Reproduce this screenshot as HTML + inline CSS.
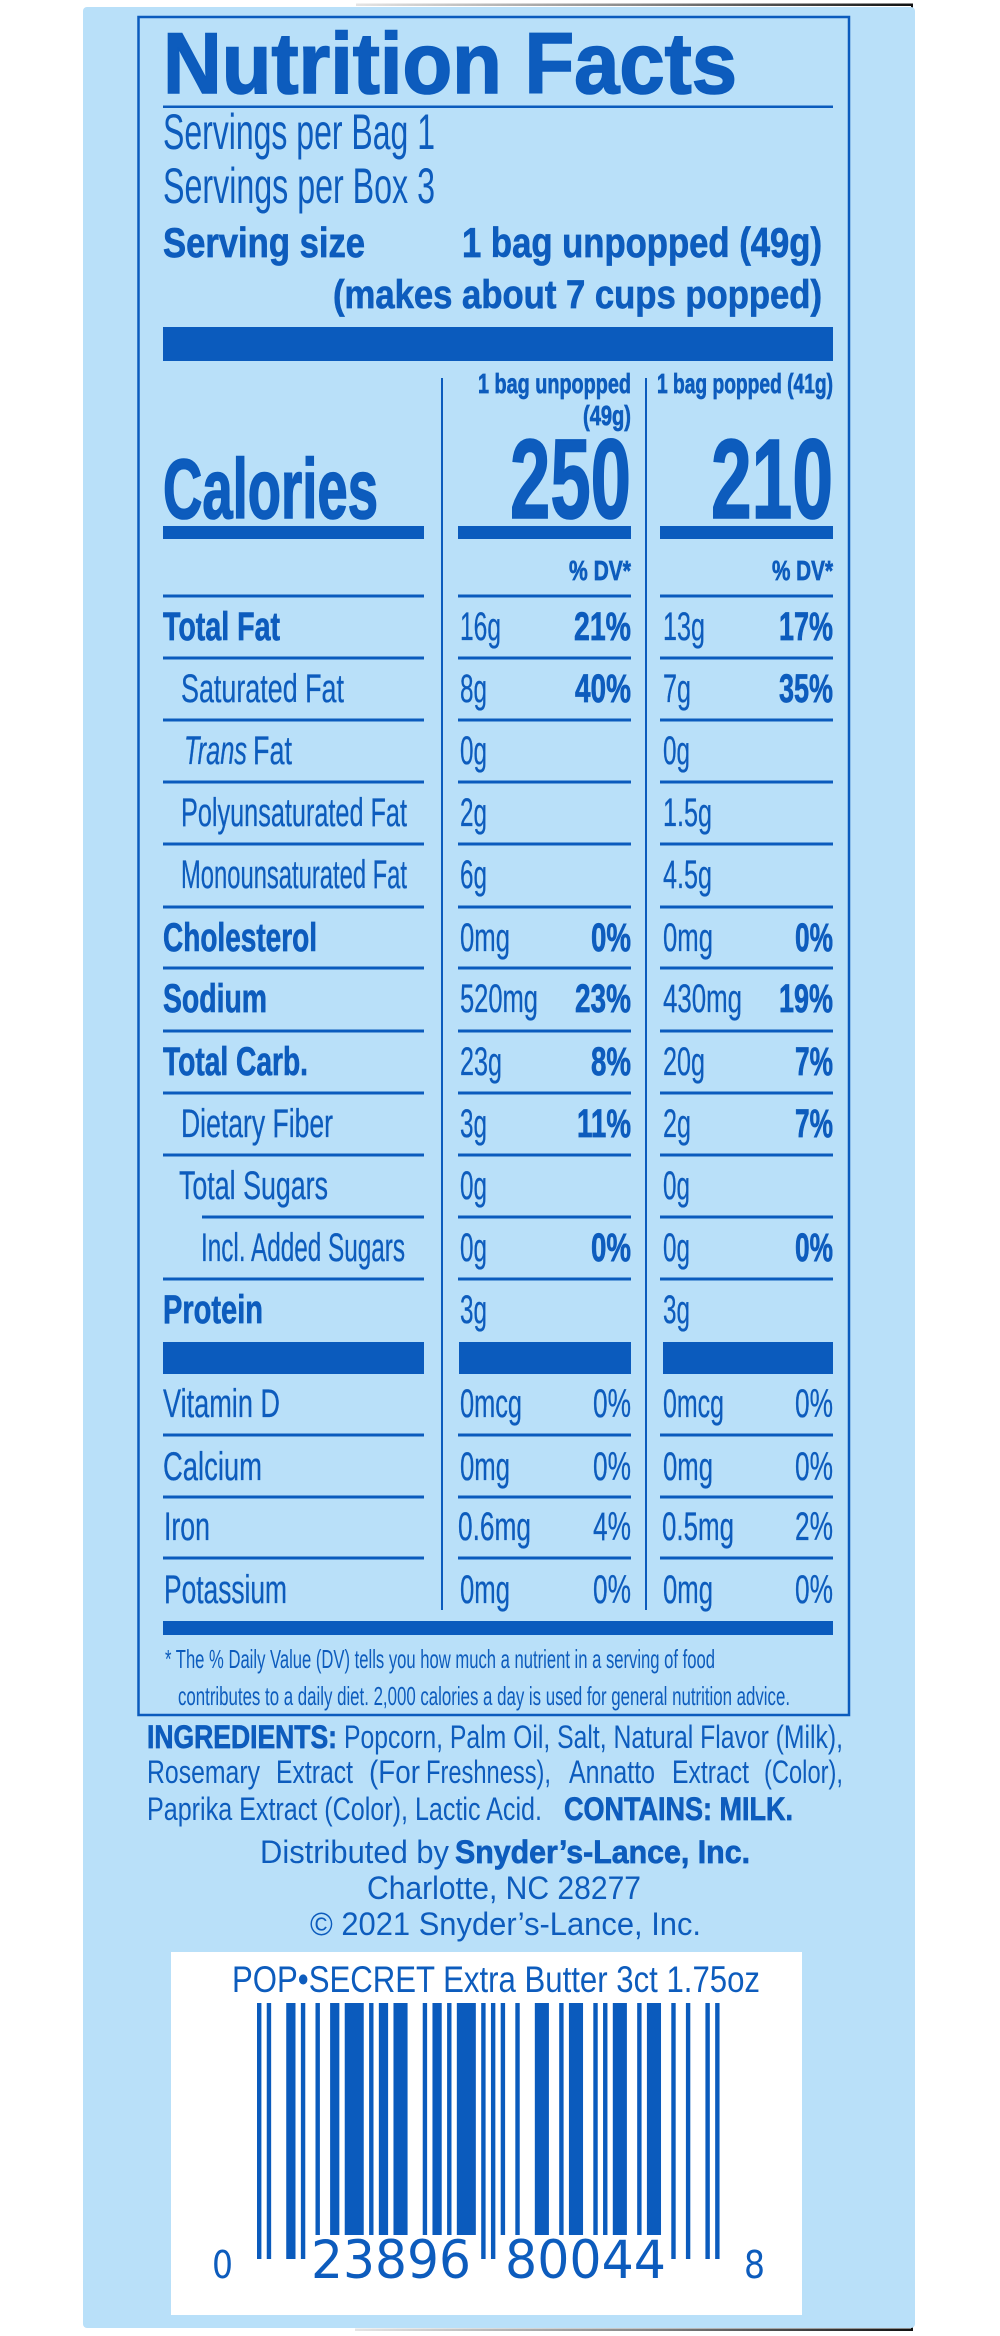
<!DOCTYPE html>
<html>
<head>
<meta charset="utf-8">
<style>
html,body{margin:0;padding:0;background:#fff;width:1000px;height:2336px;overflow:hidden}
svg{display:block}
text{font-family:"Liberation Sans",Arial,sans-serif;fill:#0d5cbd}
.b{font-weight:bold}
.bs{font-weight:bold;stroke:#0d5cbd;stroke-width:0.7}
.bt{font-weight:bold;stroke:#0b5bbd;stroke-width:1.6}
.i{font-style:italic}
rect.k{fill:#0b5bbd}
</style>
</head>
<body>
<svg width="1000" height="2336" viewBox="0 0 1000 2336" xmlns="http://www.w3.org/2000/svg">
<defs>
<linearGradient id="sh" x1="0" x2="1" y1="0" y2="0">
<stop offset="0" stop-color="#e4e4e4"/>
<stop offset="0.5" stop-color="#8a8a8a"/>
<stop offset="1" stop-color="#111"/>
</linearGradient>
</defs>
<rect x="0" y="0" width="1000" height="2336" fill="#fff"/>
<rect x="356" y="3.5" width="557" height="2.5" fill="url(#sh)"/>
<rect x="911" y="3.5" width="2" height="6" fill="#111"/>
<rect x="355" y="2328.5" width="558" height="2.5" fill="url(#sh)"/>
<rect x="911" y="2324" width="2" height="6" fill="#111"/>
<rect x="83" y="7" width="832" height="2321" rx="4" ry="4" fill="#b9e0f9"/>
<rect x="138.5" y="17" width="710.5" height="1698" fill="none" stroke="#0b5bbd" stroke-width="2.5"/>

<text x="163" y="93" font-size="86" class="bt" textLength="574" lengthAdjust="spacingAndGlyphs">Nutrition Facts</text>
<rect class="k" x="163" y="105.5" width="670" height="2.5"/>
<text x="163" y="149" font-size="50" textLength="272" lengthAdjust="spacingAndGlyphs">Servings per Bag 1</text>
<text x="163" y="203" font-size="50" textLength="272" lengthAdjust="spacingAndGlyphs">Servings per Box 3</text>
<text x="163" y="257" font-size="42" class="bs" textLength="202" lengthAdjust="spacingAndGlyphs">Serving size</text>
<text x="462" y="257" font-size="42" class="bs" textLength="360" lengthAdjust="spacingAndGlyphs">1 bag unpopped (49g)</text>
<text x="333" y="308" font-size="40" class="bs" textLength="489" lengthAdjust="spacingAndGlyphs">(makes about 7 cups popped)</text>
<rect class="k" x="163" y="327" width="670" height="34"/>

<rect class="k" x="441" y="378" width="2" height="1232"/>
<rect class="k" x="645" y="378" width="2" height="1232"/>

<text x="478" y="393" font-size="28" class="bs" textLength="153" lengthAdjust="spacingAndGlyphs">1 bag unpopped</text>
<text x="583" y="425" font-size="28" class="bs" textLength="48" lengthAdjust="spacingAndGlyphs">(49g)</text>
<text x="657" y="393" font-size="28" class="bs" textLength="176" lengthAdjust="spacingAndGlyphs">1 bag popped (41g)</text>

<text x="163" y="518" font-size="84" class="bt" textLength="215" lengthAdjust="spacingAndGlyphs">Calories</text>
<text x="510" y="518" font-size="113" class="bt" textLength="121" lengthAdjust="spacingAndGlyphs">250</text>
<text x="711" y="518" font-size="113" class="bt" textLength="122" lengthAdjust="spacingAndGlyphs">210</text>
<rect class="k" x="163" y="526" width="261" height="13"/>
<rect class="k" x="458" y="526" width="173" height="13"/>
<rect class="k" x="660" y="526" width="173" height="13"/>

<text x="569" y="580" font-size="28" class="bs" textLength="62" lengthAdjust="spacingAndGlyphs">% DV*</text>
<text x="772" y="580" font-size="28" class="bs" textLength="61" lengthAdjust="spacingAndGlyphs">% DV*</text>

<g>
<rect class="k" x="163" y="594.5" width="261" height="3"/><rect class="k" x="458" y="594.5" width="173" height="3"/><rect class="k" x="660" y="594.5" width="173" height="3"/>
<rect class="k" x="163" y="656.5" width="261" height="3"/><rect class="k" x="458" y="656.5" width="173" height="3"/><rect class="k" x="660" y="656.5" width="173" height="3"/>
<rect class="k" x="163" y="718.5" width="261" height="3"/><rect class="k" x="458" y="718.5" width="173" height="3"/><rect class="k" x="660" y="718.5" width="173" height="3"/>
<rect class="k" x="163" y="780.5" width="261" height="3"/><rect class="k" x="458" y="780.5" width="173" height="3"/><rect class="k" x="660" y="780.5" width="173" height="3"/>
<rect class="k" x="163" y="842.5" width="261" height="3"/><rect class="k" x="458" y="842.5" width="173" height="3"/><rect class="k" x="660" y="842.5" width="173" height="3"/>
<rect class="k" x="163" y="905.5" width="261" height="3"/><rect class="k" x="458" y="905.5" width="173" height="3"/><rect class="k" x="660" y="905.5" width="173" height="3"/>
<rect class="k" x="163" y="966.5" width="261" height="3"/><rect class="k" x="458" y="966.5" width="173" height="3"/><rect class="k" x="660" y="966.5" width="173" height="3"/>
<rect class="k" x="163" y="1029.5" width="261" height="3"/><rect class="k" x="458" y="1029.5" width="173" height="3"/><rect class="k" x="660" y="1029.5" width="173" height="3"/>
<rect class="k" x="163" y="1091.5" width="261" height="3"/><rect class="k" x="458" y="1091.5" width="173" height="3"/><rect class="k" x="660" y="1091.5" width="173" height="3"/>
<rect class="k" x="163" y="1153.5" width="261" height="3"/><rect class="k" x="458" y="1153.5" width="173" height="3"/><rect class="k" x="660" y="1153.5" width="173" height="3"/>
<rect class="k" x="202" y="1215.5" width="222" height="3"/><rect class="k" x="458" y="1215.5" width="173" height="3"/><rect class="k" x="660" y="1215.5" width="173" height="3"/>
<rect class="k" x="163" y="1277.5" width="261" height="3"/><rect class="k" x="458" y="1277.5" width="173" height="3"/><rect class="k" x="660" y="1277.5" width="173" height="3"/>
<rect class="k" x="163" y="1342" width="261" height="32"/><rect class="k" x="459" y="1342" width="172" height="32"/><rect class="k" x="663" y="1342" width="170" height="32"/>
<rect class="k" x="163" y="1433.5" width="261" height="3"/><rect class="k" x="458" y="1433.5" width="173" height="3"/><rect class="k" x="660" y="1433.5" width="173" height="3"/>
<rect class="k" x="163" y="1495.5" width="261" height="3"/><rect class="k" x="458" y="1495.5" width="173" height="3"/><rect class="k" x="660" y="1495.5" width="173" height="3"/>
<rect class="k" x="163" y="1556.5" width="261" height="3"/><rect class="k" x="458" y="1556.5" width="173" height="3"/><rect class="k" x="660" y="1556.5" width="173" height="3"/>
<rect class="k" x="163" y="1621" width="670" height="14"/>
</g>

<g font-size="40" style="stroke:#0d5cbd;stroke-width:0.3">
<text x="163" y="640" class="bs" textLength="117" lengthAdjust="spacingAndGlyphs">Total Fat</text>
<text x="460" y="640" textLength="41" lengthAdjust="spacingAndGlyphs">16g</text>
<text x="574" y="640" class="bs" textLength="57" lengthAdjust="spacingAndGlyphs">21%</text>
<text x="663" y="640" textLength="42" lengthAdjust="spacingAndGlyphs">13g</text>
<text x="779" y="640" class="bs" textLength="54" lengthAdjust="spacingAndGlyphs">17%</text>

<text x="181" y="702" textLength="163" lengthAdjust="spacingAndGlyphs">Saturated Fat</text>
<text x="460" y="702" textLength="27" lengthAdjust="spacingAndGlyphs">8g</text>
<text x="575" y="702" class="bs" textLength="56" lengthAdjust="spacingAndGlyphs">40%</text>
<text x="663" y="702" textLength="28" lengthAdjust="spacingAndGlyphs">7g</text>
<text x="779" y="702" class="bs" textLength="54" lengthAdjust="spacingAndGlyphs">35%</text>

<text x="184" y="764" class="i" textLength="63" lengthAdjust="spacingAndGlyphs">Trans</text>
<text x="253" y="764" textLength="39" lengthAdjust="spacingAndGlyphs">Fat</text>
<text x="460" y="764" textLength="27" lengthAdjust="spacingAndGlyphs">0g</text>
<text x="663" y="764" textLength="27" lengthAdjust="spacingAndGlyphs">0g</text>

<text x="181" y="826" textLength="226" lengthAdjust="spacingAndGlyphs">Polyunsaturated Fat</text>
<text x="460" y="826" textLength="27" lengthAdjust="spacingAndGlyphs">2g</text>
<text x="663" y="826" textLength="49" lengthAdjust="spacingAndGlyphs">1.5g</text>

<text x="181" y="888" textLength="226" lengthAdjust="spacingAndGlyphs">Monounsaturated Fat</text>
<text x="460" y="888" textLength="27" lengthAdjust="spacingAndGlyphs">6g</text>
<text x="663" y="888" textLength="49" lengthAdjust="spacingAndGlyphs">4.5g</text>

<text x="163" y="951" class="bs" textLength="154" lengthAdjust="spacingAndGlyphs">Cholesterol</text>
<text x="460" y="951" textLength="50" lengthAdjust="spacingAndGlyphs">0mg</text>
<text x="591" y="951" class="bs" textLength="40" lengthAdjust="spacingAndGlyphs">0%</text>
<text x="663" y="951" textLength="50" lengthAdjust="spacingAndGlyphs">0mg</text>
<text x="795" y="951" class="bs" textLength="38" lengthAdjust="spacingAndGlyphs">0%</text>

<text x="163" y="1012" class="bs" textLength="104" lengthAdjust="spacingAndGlyphs">Sodium</text>
<text x="460" y="1012" textLength="78" lengthAdjust="spacingAndGlyphs">520mg</text>
<text x="575" y="1012" class="bs" textLength="56" lengthAdjust="spacingAndGlyphs">23%</text>
<text x="663" y="1012" textLength="79" lengthAdjust="spacingAndGlyphs">430mg</text>
<text x="779" y="1012" class="bs" textLength="54" lengthAdjust="spacingAndGlyphs">19%</text>

<text x="163" y="1075" class="bs" textLength="145" lengthAdjust="spacingAndGlyphs">Total Carb.</text>
<text x="460" y="1075" textLength="42" lengthAdjust="spacingAndGlyphs">23g</text>
<text x="591" y="1075" class="bs" textLength="40" lengthAdjust="spacingAndGlyphs">8%</text>
<text x="663" y="1075" textLength="42" lengthAdjust="spacingAndGlyphs">20g</text>
<text x="795" y="1075" class="bs" textLength="38" lengthAdjust="spacingAndGlyphs">7%</text>

<text x="181" y="1137" textLength="152" lengthAdjust="spacingAndGlyphs">Dietary Fiber</text>
<text x="460" y="1137" textLength="27" lengthAdjust="spacingAndGlyphs">3g</text>
<text x="577" y="1137" class="bs" textLength="54" lengthAdjust="spacingAndGlyphs">11%</text>
<text x="663" y="1137" textLength="28" lengthAdjust="spacingAndGlyphs">2g</text>
<text x="795" y="1137" class="bs" textLength="38" lengthAdjust="spacingAndGlyphs">7%</text>

<text x="179" y="1199" textLength="149" lengthAdjust="spacingAndGlyphs">Total Sugars</text>
<text x="460" y="1199" textLength="27" lengthAdjust="spacingAndGlyphs">0g</text>
<text x="663" y="1199" textLength="27" lengthAdjust="spacingAndGlyphs">0g</text>

<text x="201" y="1261" textLength="204" lengthAdjust="spacingAndGlyphs">Incl. Added Sugars</text>
<text x="460" y="1261" textLength="27" lengthAdjust="spacingAndGlyphs">0g</text>
<text x="591" y="1261" class="bs" textLength="40" lengthAdjust="spacingAndGlyphs">0%</text>
<text x="663" y="1261" textLength="27" lengthAdjust="spacingAndGlyphs">0g</text>
<text x="795" y="1261" class="bs" textLength="38" lengthAdjust="spacingAndGlyphs">0%</text>

<text x="163" y="1323" class="bs" textLength="100" lengthAdjust="spacingAndGlyphs">Protein</text>
<text x="460" y="1323" textLength="27" lengthAdjust="spacingAndGlyphs">3g</text>
<text x="663" y="1323" textLength="27" lengthAdjust="spacingAndGlyphs">3g</text>

<text x="163" y="1417" textLength="117" lengthAdjust="spacingAndGlyphs">Vitamin D</text>
<text x="460" y="1417" textLength="62" lengthAdjust="spacingAndGlyphs">0mcg</text>
<text x="593" y="1417" textLength="38" lengthAdjust="spacingAndGlyphs">0%</text>
<text x="663" y="1417" textLength="61" lengthAdjust="spacingAndGlyphs">0mcg</text>
<text x="795" y="1417" textLength="38" lengthAdjust="spacingAndGlyphs">0%</text>

<text x="163" y="1480" textLength="99" lengthAdjust="spacingAndGlyphs">Calcium</text>
<text x="460" y="1480" textLength="50" lengthAdjust="spacingAndGlyphs">0mg</text>
<text x="593" y="1480" textLength="38" lengthAdjust="spacingAndGlyphs">0%</text>
<text x="663" y="1480" textLength="50" lengthAdjust="spacingAndGlyphs">0mg</text>
<text x="795" y="1480" textLength="38" lengthAdjust="spacingAndGlyphs">0%</text>

<text x="164" y="1540" textLength="46" lengthAdjust="spacingAndGlyphs">Iron</text>
<text x="458" y="1540" textLength="73" lengthAdjust="spacingAndGlyphs">0.6mg</text>
<text x="593" y="1540" textLength="38" lengthAdjust="spacingAndGlyphs">4%</text>
<text x="662" y="1540" textLength="72" lengthAdjust="spacingAndGlyphs">0.5mg</text>
<text x="795" y="1540" textLength="38" lengthAdjust="spacingAndGlyphs">2%</text>

<text x="164" y="1603" textLength="123" lengthAdjust="spacingAndGlyphs">Potassium</text>
<text x="460" y="1603" textLength="50" lengthAdjust="spacingAndGlyphs">0mg</text>
<text x="593" y="1603" textLength="38" lengthAdjust="spacingAndGlyphs">0%</text>
<text x="663" y="1603" textLength="50" lengthAdjust="spacingAndGlyphs">0mg</text>
<text x="795" y="1603" textLength="38" lengthAdjust="spacingAndGlyphs">0%</text>
</g>

<text x="165" y="1668" font-size="26" textLength="550" lengthAdjust="spacingAndGlyphs">* The % Daily Value (DV) tells you how much a nutrient in a serving of food</text>
<text x="178" y="1705" font-size="26" textLength="612" lengthAdjust="spacingAndGlyphs">contributes to a daily diet. 2,000 calories a day is used for general nutrition advice.</text>

<g font-size="32">
<text x="147" y="1748" class="bs" textLength="190" lengthAdjust="spacingAndGlyphs">INGREDIENTS:</text>
<text x="344" y="1748" textLength="499" lengthAdjust="spacingAndGlyphs">Popcorn, Palm Oil, Salt, Natural Flavor (Milk),</text>
<text x="147" y="1783" textLength="113" lengthAdjust="spacingAndGlyphs">Rosemary</text>
<text x="276" y="1783" textLength="77" lengthAdjust="spacingAndGlyphs">Extract</text>
<text x="369" y="1783" textLength="51" lengthAdjust="spacingAndGlyphs">(For</text>
<text x="426" y="1783" textLength="125" lengthAdjust="spacingAndGlyphs">Freshness),</text>
<text x="569" y="1783" textLength="86" lengthAdjust="spacingAndGlyphs">Annatto</text>
<text x="672" y="1783" textLength="77" lengthAdjust="spacingAndGlyphs">Extract</text>
<text x="764" y="1783" textLength="79" lengthAdjust="spacingAndGlyphs">(Color),</text>
<text x="147" y="1820" textLength="395" lengthAdjust="spacingAndGlyphs">Paprika Extract (Color), Lactic Acid.</text>
<text x="564" y="1820" class="bs" textLength="229" lengthAdjust="spacingAndGlyphs">CONTAINS: MILK.</text>

<text x="260" y="1863" textLength="189" lengthAdjust="spacingAndGlyphs">Distributed by</text>
<text x="455" y="1863" class="bs" textLength="295" lengthAdjust="spacingAndGlyphs">Snyder’s-Lance, Inc.</text>
<text x="367" y="1899" textLength="274" lengthAdjust="spacingAndGlyphs">Charlotte, NC 28277</text>
<text x="310" y="1935" textLength="391" lengthAdjust="spacingAndGlyphs">© 2021 Snyder’s-Lance, Inc.</text>
</g>

<rect x="171" y="1952" width="631" height="363" fill="#ffffff"/>
<text x="232" y="1992" font-size="37" textLength="528" lengthAdjust="spacingAndGlyphs">POP•SECRET Extra Butter 3ct 1.75oz</text>
<g fill="#0b5bbd">
<rect x="257.00" y="2003" width="4.4" height="256"/>
<rect x="266.75" y="2003" width="4.4" height="256"/>
<rect x="286.24" y="2003" width="9.25" height="256"/>
<rect x="300.87" y="2003" width="4.4" height="256"/>
<rect x="315.49" y="2003" width="4.4" height="232"/>
<rect x="330.11" y="2003" width="9.25" height="232"/>
<rect x="344.73" y="2003" width="19.0" height="232"/>
<rect x="369.10" y="2003" width="4.4" height="232"/>
<rect x="378.85" y="2003" width="9.25" height="232"/>
<rect x="393.47" y="2003" width="14.1" height="232"/>
<rect x="422.72" y="2003" width="4.4" height="232"/>
<rect x="432.46" y="2003" width="9.25" height="232"/>
<rect x="447.09" y="2003" width="4.4" height="232"/>
<rect x="456.83" y="2003" width="19.0" height="232"/>
<rect x="481.20" y="2003" width="4.4" height="256"/>
<rect x="490.95" y="2003" width="4.4" height="256"/>
<rect x="500.70" y="2003" width="4.4" height="232"/>
<rect x="515.32" y="2003" width="4.4" height="232"/>
<rect x="534.82" y="2003" width="14.1" height="232"/>
<rect x="559.19" y="2003" width="4.4" height="232"/>
<rect x="568.94" y="2003" width="14.1" height="232"/>
<rect x="593.31" y="2003" width="4.4" height="232"/>
<rect x="603.05" y="2003" width="4.4" height="232"/>
<rect x="612.80" y="2003" width="14.1" height="232"/>
<rect x="637.17" y="2003" width="4.4" height="232"/>
<rect x="646.92" y="2003" width="14.1" height="232"/>
<rect x="671.29" y="2003" width="4.4" height="256"/>
<rect x="685.91" y="2003" width="4.4" height="256"/>
<rect x="705.41" y="2003" width="4.4" height="256"/>
<rect x="715.16" y="2003" width="4.4" height="256"/>
</g>
<text x="212" y="2278" font-size="38" textLength="21" lengthAdjust="spacingAndGlyphs" style="font-family:'DejaVu Sans','Liberation Sans',sans-serif">0</text>
<text x="311" y="2278" font-size="53" textLength="160" lengthAdjust="spacingAndGlyphs" style="font-family:'DejaVu Sans','Liberation Sans',sans-serif">23896</text>
<text x="505" y="2278" font-size="53" textLength="161" lengthAdjust="spacingAndGlyphs" style="font-family:'DejaVu Sans','Liberation Sans',sans-serif">80044</text>
<text x="744" y="2278" font-size="38" textLength="21" lengthAdjust="spacingAndGlyphs" style="font-family:'DejaVu Sans','Liberation Sans',sans-serif">8</text>
</svg>
</body>
</html>
